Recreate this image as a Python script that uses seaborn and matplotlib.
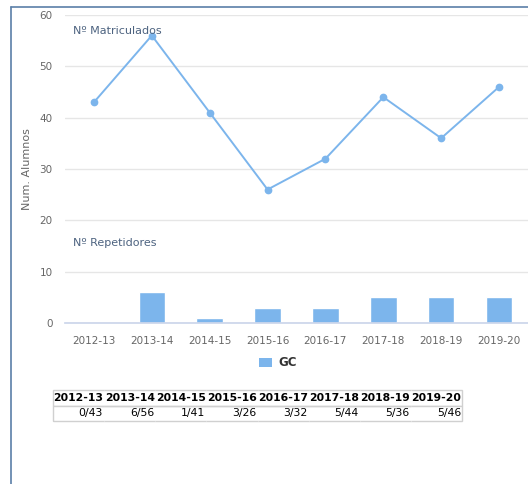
import matplotlib
matplotlib.use("Agg")
import matplotlib.pyplot as plt
import seaborn as sns
import numpy as np
from matplotlib.patches import Patch
from matplotlib.lines import Line2D

seasons = ["2012-13", "2013-14", "2014-15", "2015-16", "2016-17", "2017-18", "2018-19", "2019-20"]
matriculados = [43, 56, 41, 26, 32, 44, 36, 46]
repetidores = [0, 6, 1, 3, 3, 5, 5, 5]
y_ticks = [0, 10, 20, 30, 40, 50, 60]

sns.set_theme(style="white")
plt.rcParams['font.family'] = ['DejaVu Sans']

BLUE = "#7cb5ec"
W, H = 528, 484
fig = plt.figure(figsize=(W / 100, H / 100), dpi=100)

# border lines of container
fig.add_artist(Line2D([11 / W, 11 / W], [0, 1 - 7 / H], color="#5b7fa8", lw=1.2))
fig.add_artist(Line2D([11 / W, 1], [1 - 7 / H, 1 - 7 / H], color="#5b7fa8", lw=1.2))

ax = fig.add_axes([65 / W, 1 - 323 / H, (W - 65) / W, (323 - 15) / H])
sns.barplot(x=seasons, y=repetidores, color=BLUE, saturation=1, width=0.46, ax=ax, zorder=2)
sns.pointplot(x=seasons, y=matriculados, color=BLUE, markers="o", markersize=4.5,
              linewidth=1.4, ax=ax, zorder=3)

ax.set_ylim(0, 60)
ax.set_xlim(-0.5, (W - 65) / 58.5 - 0.5)
ax.set_yticks(y_ticks)
ax.yaxis.grid(True, color="#e6e6e6", lw=1)
ax.set_axisbelow(True)
for s in ["top", "right", "left"]:
    ax.spines[s].set_visible(False)
ax.spines["bottom"].set_color("#ccd6eb")
ax.tick_params(axis="y", length=0, pad=9, labelsize=7.5, labelcolor="#666666")
ax.tick_params(axis="x", which="major", length=0, pad=9, labelsize=7.5, labelcolor="#666666")
ax.set_xticks(np.arange(-0.5, len(seasons), 1), minor=True)
ax.tick_params(axis="x", which="minor", length=6, color="#ccd6eb", width=1)
ax.set_xlabel("")
ax.set_ylabel("Num. Alumnos", fontsize=8, color="#666666", labelpad=5)

fig.text(73 / W, 1 - 31 / H, "Nº Matriculados", fontsize=8, color="#4d6380", va="center")
fig.text(73 / W, 1 - 243 / H, "Nº Repetidores", fontsize=8, color="#4d6380", va="center")

leg = fig.legend(handles=[Patch(facecolor=BLUE, edgecolor="none", label="GC")],
                 loc="center", bbox_to_anchor=(278 / W, 1 - 363 / H), frameon=False,
                 handlelength=1.1, handleheight=0.9, handletextpad=0.5,
                 prop={"weight": "bold", "size": 8.5})
for t in leg.get_texts():
    t.set_color("#333333")

# data table
values = [f"{r}/{m}" for r, m in zip(repetidores, matriculados)]
tax = fig.add_axes([53 / W, 1 - 421 / H, (462 - 53) / W, (421 - 390) / H])
tax.axis("off")
tbl = tax.table(cellText=[values], colLabels=seasons, bbox=[0, 0, 1, 1], cellLoc="right")
tbl.auto_set_font_size(False)
n = len(seasons)
for (r, c), cell in tbl.get_celld().items():
    cell.set_edgecolor("#d0d0d0")
    cell.set_linewidth(1)
    cell.PAD = 0.02
    edges = "TB"
    if c == 0:
        edges += "L"
    if c == n - 1:
        edges += "R"
    cell.visible_edges = edges
    txt = cell.get_text()
    txt.set_fontsize(7.8)
    txt.set_color("black")
    if r == 0:
        txt.set_weight("bold")
        txt.set_ha("center")
        cell._loc = "center"

fig.savefig("out.png", dpi=100)
